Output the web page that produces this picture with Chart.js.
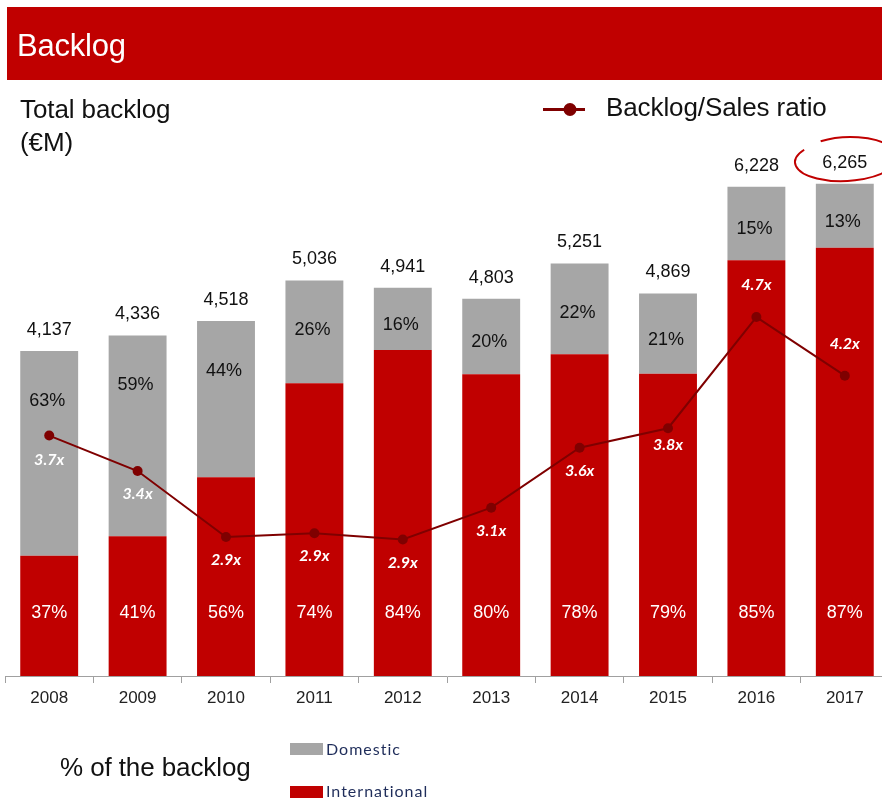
<!DOCTYPE html>
<html>
<head>
<meta charset="utf-8">
<script src="https://cdn.jsdelivr.net/npm/chart.js@4"></script>
<style>
  html, body { margin: 0; padding: 0; width: 882px; height: 800px; overflow: hidden; background: #fff; }
  body { position: relative; font-family: "Liberation Sans", Arial, sans-serif; }
  #chart { position: absolute; left: 0; top: 0; }
  .abs { position: absolute; white-space: nowrap; }
  #header { left: 7px; top: 7px; width: 875px; height: 73px; background: #c00000; }
  #header span { position: absolute; left: 10px; top: 23px; color: #fff; font-size: 31px; line-height: 31px; letter-spacing: -0.2px; }
  #ytitle { left: 20px; top: 93px; font-size: 26px; line-height: 33px; color: #111; letter-spacing: -0.1px; }
  #ratioLeg { left: 606px; top: 92px; font-size: 26px; line-height: 30px; color: #111; letter-spacing: -0.1px; }
  #pctTitle { left: 60px; top: 752px; font-size: 26px; line-height: 30px; color: #111; letter-spacing: -0.1px; }
  .legbox { width: 33px; height: 12px; }
  .legtxt { font-family: Lato, "Open Sans", sans-serif; font-size: 16px; line-height: 18px; color: #1f2d5a; letter-spacing: 1px; }
</style>
</head>
<body>
<canvas id="chart" width="894" height="800"></canvas>
<div id="header" class="abs"><span>Backlog</span></div>
<div id="ytitle" class="abs">Total backlog<br>(€M)</div>
<svg class="abs" style="left:540px;top:100px" width="50" height="20">
  <line x1="3" y1="9.5" x2="45" y2="9.5" stroke="#7f0000" stroke-width="3"/>
  <circle cx="30" cy="9.5" r="6.5" fill="#7f0000"/>
</svg>
<div id="ratioLeg" class="abs">Backlog/Sales ratio</div>
<div id="pctTitle" class="abs">% of the backlog</div>
<div class="abs legbox" style="left:290px;top:743px;background:#a6a6a6"></div>
<div class="abs legtxt" style="left:326px;top:740px">Domestic</div>
<div class="abs legbox" style="left:290px;top:786px;background:#c00000"></div>
<div class="abs legtxt" style="left:326px;top:782px">International</div>

<script>
// ---- Data ----
const categories = ['2008', '2009', '2010', '2011', '2012', '2013', '2014', '2015', '2016', '2017'];
const totalBacklog = [4137, 4336, 4518, 5036, 4941, 4803, 5251, 4869, 6228, 6265];       // €M
const domesticShare = [63, 59, 44, 26, 16, 20, 22, 21, 15, 13];                            // %
const internationalShare = [37, 41, 56, 74, 84, 80, 78, 79, 85, 87];                       // %
const backlogSalesRatio = [3.73, 3.44, 2.90, 2.93, 2.88, 3.14, 3.63, 3.79, 4.70, 4.22];    // x

// Stack segments in €M derived from the read totals and shares
const internationalValues = totalBacklog.map((t, i) => Math.round(t * internationalShare[i] / 100));
const domesticValues = totalBacklog.map((t, i) => t - internationalValues[i]);

const RED = '#c00000', GREY = '#a6a6a6', LINE = '#7f0000';

const labelPlugin = {
  id: 'labels',
  afterDatasetsDraw(chart) {
    const ctx = chart.ctx;
    const y = chart.scales.y;
    const intMeta = chart.getDatasetMeta(0);
    const domMeta = chart.getDatasetMeta(1);
    const lineMeta = chart.getDatasetMeta(2);
    ctx.save();
    ctx.textAlign = 'center';
    ctx.textBaseline = 'middle';
    categories.forEach((c, i) => {
      const x = domMeta.data[i].x;
      const top = domMeta.data[i].y;
      const split = intMeta.data[i].y;
      // totals
      ctx.fillStyle = '#111';
      ctx.font = '18px "Liberation Sans", Arial, sans-serif';
      ctx.fillText(totalBacklog[i].toLocaleString('en-US'), x, top - 21);
      // domestic share
      const mid = (top + split) / 2;
      ctx.fillText(domesticShare[i] + '%', x - 2, Math.min(mid + 6, top + 50));
      // international share
      ctx.fillStyle = '#fff';
      ctx.fillText(internationalShare[i] + '%', x, y.getPixelForValue(800));
    });
    // ratio labels
    ctx.font = 'italic bold 16px Lato, "Open Sans", sans-serif';
    ctx.fillStyle = '#fff';
    lineMeta.data.forEach((p, i) => {
      const v = backlogSalesRatio[i];
      const dy = v > 4 ? -32 : (v > 3.7 && v < 3.75 ? 24 : (v > 3.75 ? 17 : 23));
      ctx.fillText(v.toFixed(1) + 'x', p.x, p.y + dy);
    });
    ctx.restore();
  },
  afterDraw(chart) {
    const ctx = chart.ctx;
    ctx.save();
    ctx.strokeStyle = '#c00000';
    ctx.lineWidth = 2;
    ctx.beginPath();
    ctx.ellipse(846, 160, 51, 21, -0.05, 1.2 * Math.PI, 0.15 * Math.PI, true);
    ctx.stroke();
    ctx.beginPath();
    ctx.ellipse(848, 159, 50, 22, -0.03, 1.32 * Math.PI, 1.95 * Math.PI, false);
    ctx.stroke();
    ctx.restore();
  }
};

new Chart(document.getElementById('chart'), {
  data: {
    labels: categories,
    datasets: [
      { type: 'bar', label: 'International', data: internationalValues, backgroundColor: RED,
        stack: 's', order: 2, barPercentage: 0.655, categoryPercentage: 1.0, yAxisID: 'y' },
      { type: 'bar', label: 'Domestic', data: domesticValues, backgroundColor: GREY,
        stack: 's', order: 2, barPercentage: 0.655, categoryPercentage: 1.0, yAxisID: 'y' },
      { type: 'line', label: 'Backlog/Sales ratio', data: backlogSalesRatio, borderColor: LINE,
        backgroundColor: LINE, borderWidth: 2, pointRadius: 5, pointBackgroundColor: LINE,
        pointBorderWidth: 0, tension: 0, order: 0, yAxisID: 'y1' }
    ]
  },
  options: {
    responsive: false,
    devicePixelRatio: 1,
    animation: false,
    layout: { padding: { left: 4, right: 0, top: 79, bottom: 0 } },
    plugins: { legend: { display: false }, tooltip: { enabled: false } },
    scales: {
      x: {
        stacked: true,
        offset: true,
        grid: { display: true, drawOnChartArea: false, drawTicks: true, tickLength: 7, color: '#a0a0a0', offset: true },
        border: { display: true, color: '#a0a0a0', width: 1 },
        ticks: { color: '#222', font: { family: '"Liberation Sans", Arial, sans-serif', size: 17 }, padding: 5 },
        afterFit(s) { s.height = 124; }
      },
      y: { stacked: true, display: false, min: 0, max: 7600 },
      y1: { display: false, min: 1.7625, max: 6.648, position: 'right' }
    }
  },
  plugins: [labelPlugin]
});
</script>
</body>
</html>
